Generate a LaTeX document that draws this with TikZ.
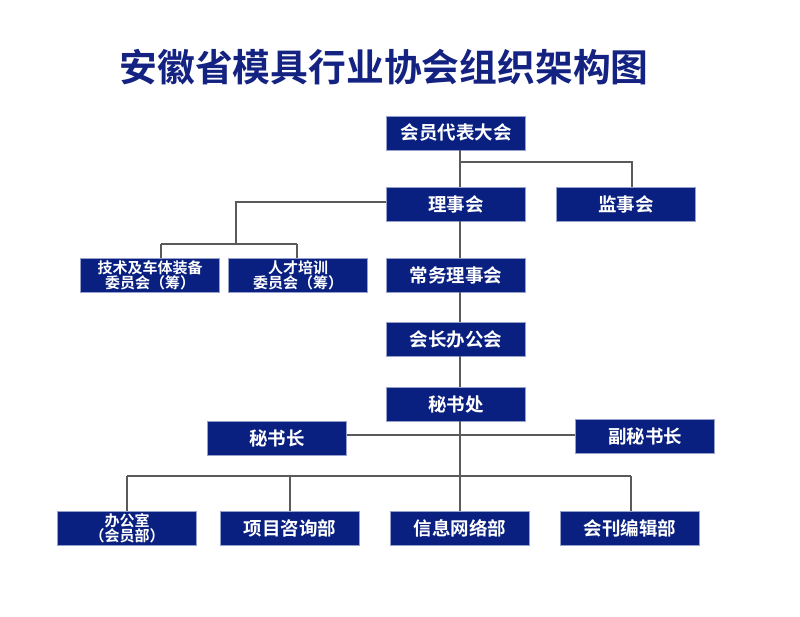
\documentclass[tikz,border=0pt]{standalone}
\usepackage{fontspec}
\newfontfamily\cjk{Noto Sans CJK SC}[BoldFont={Noto Sans CJK SC Bold}]
\definecolor{boxblue}{RGB}{10,32,128}
\definecolor{titleblue}{RGB}{20,34,130}
\definecolor{linegray}{RGB}{90,90,90}
\tikzset{
  orgbox/.style={rectangle, fill=boxblue, draw={rgb,255:red,150;green,160;blue,205}, line width=0.5pt,
    minimum width=139pt, minimum height=34pt, inner sep=0pt, text=white,
    font=\cjk\bfseries\fontsize{18.5}{20}\selectfont, align=center},
  twoline/.style={font=\cjk\bfseries\fontsize{15}{15}\selectfont},
  conn/.style={draw=linegray, line width=1.6pt}
}
\begin{document}
\begin{tikzpicture}[x=1pt,y=-1pt]
\useasboundingbox (0,0) rectangle (800,617);
\node[text=titleblue, font=\cjk\bfseries\fontsize{37.8}{40}\selectfont] (title) at (384,67) {安徽省模具行业协会组织架构图};

\node[orgbox] (dbdh) at (456,133) {会员代表大会};
\node[orgbox] (lsh) at (456,204) {理事会};
\node[orgbox] (jsh) at (626,204) {监事会};
\node[orgbox,twoline] (jszb) at (150,275) {技术及车体装备\\委员会（筹）};
\node[orgbox,twoline] (rcpx) at (298,275) {人才培训\\委员会（筹）};
\node[orgbox] (cwlsh) at (456,275) {常务理事会};
\node[orgbox] (hzbgh) at (456,339) {会长办公会};
\node[orgbox] (msc) at (456,404) {秘书处};
\node[orgbox] (msz) at (277,438) {秘书长};
\node[orgbox] (fmsz) at (645,436) {副秘书长};
\node[orgbox,twoline] (bgs) at (127,528) {办公室\\（会员部）};
\node[orgbox] (xmzx) at (290,528) {项目咨询部};
\node[orgbox] (xxwl) at (460,528) {信息网络部};
\node[orgbox] (kbj) at (630,528) {会刊编辑部};

\coordinate (sp) at (460,0);
\coordinate (b1) at (460,162);
\coordinate (b1r) at (632,162);
\coordinate (c1) at (236,202);
\coordinate (c2) at (236,244);
\coordinate (c2l) at (161,244);
\coordinate (c2r) at (297,244);
\coordinate (bus) at (460,476);
\coordinate (busl) at (127,476);
\coordinate (busr) at (631,476);

\draw[conn] (dbdh.south -| sp) -- (lsh.north -| sp);
\draw[conn] (b1) -- (b1r) -- (jsh.north -| b1r);
\draw[conn] (lsh.west |- c1) -- (c1) -- (c2);
\draw[conn] (c2l) -- (c2r);
\draw[conn] (c2l) -- (jszb.north -| c2l);
\draw[conn] (c2r) -- (rcpx.north -| c2r);
\draw[conn] (lsh.south -| sp) -- (cwlsh.north -| sp);
\draw[conn] (cwlsh.south -| sp) -- (hzbgh.north -| sp);
\draw[conn] (hzbgh.south -| sp) -- (msc.north -| sp);
\draw[conn] (msc.south -| sp) -- (bus);
\draw[conn] (msz.east |- 0,435) -- (fmsz.west |- 0,435);
\draw[conn] (busl) -- (busr);
\draw[conn] (busl) -- (bgs.north -| busl);
\draw[conn] (290,476) -- (xmzx.north);
\draw[conn] (bus) -- (xxwl.north);
\draw[conn] (busr) -- (kbj.north -| busr);
\end{tikzpicture}
\end{document}
